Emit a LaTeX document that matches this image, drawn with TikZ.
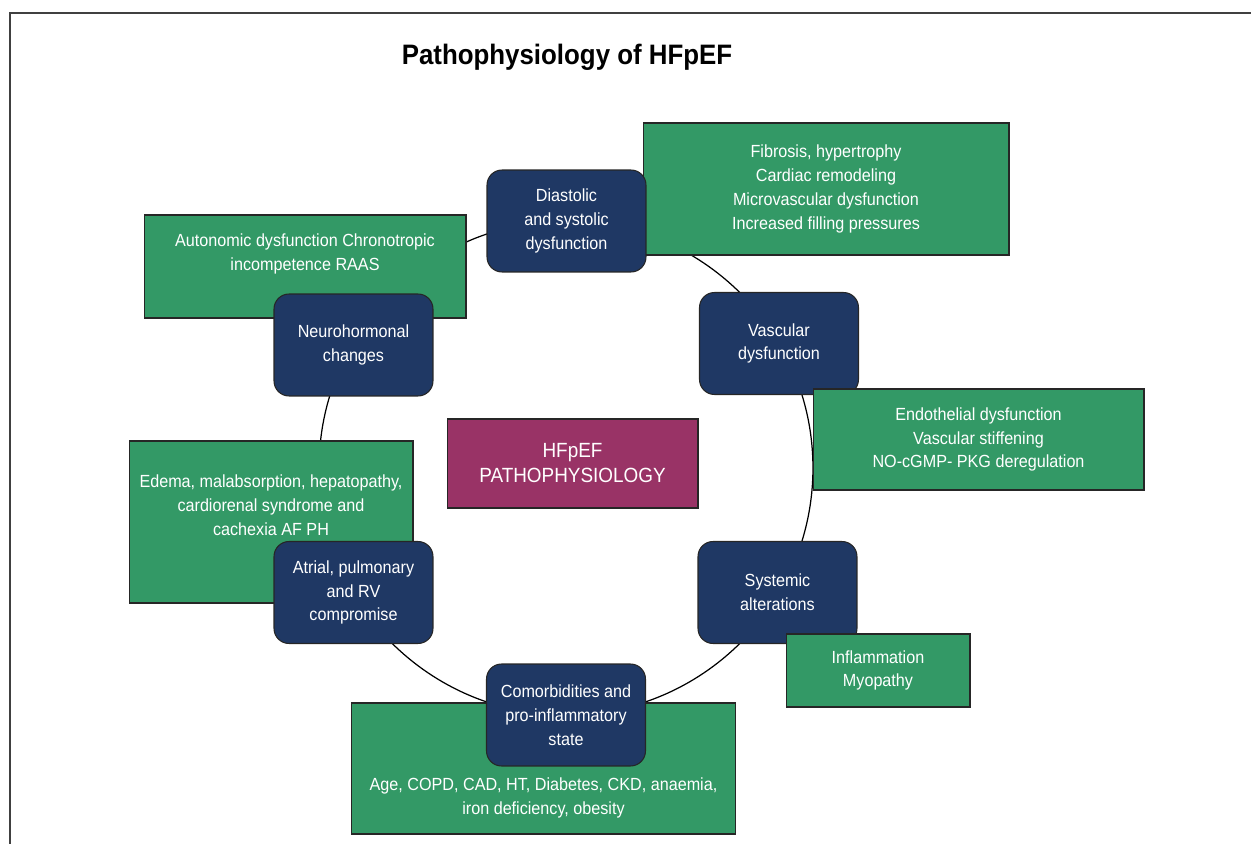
\documentclass[tikz,border=0pt]{standalone}
\usepackage{fontspec}
\setmainfont{Liberation Sans}[FakeStretch=0.92]
\definecolor{hfgreen}{HTML}{339966}
\definecolor{hfnavy}{HTML}{1F3864}
\definecolor{hfplum}{HTML}{993366}
\begin{document}
\begin{tikzpicture}[x=0.02cm,y=-0.02cm,
  every node/.style={font=\fontsize{10}{13.6}\selectfont},
  cause/.style={rectangle,draw=black!85,line width=0.6pt,fill=hfgreen,text=white,align=center,inner sep=0pt},
  stage/.style={rectangle,rounded corners=0.3cm,draw=black!85,line width=0.6pt,fill=hfnavy,text=white,align=center,inner sep=0pt,minimum width=3.18cm,minimum height=2.04cm},
  core/.style={rectangle,draw=black!85,line width=0.6pt,fill=hfplum,text=white,align=center,inner sep=0pt,font=\fontsize{11.7}{14.2}\selectfont},
  caption/.style={text=white,align=center}]
\useasboundingbox (0,0) rectangle (1251,844);
\draw[black!75,line width=0.7pt] (10,844) -- (10,13) -- (1251,13);
\node[font=\fontsize{16}{19}\selectfont\bfseries] (title) at (567,57) {Pathophysiology of HFpEF};
% ring
\coordinate (ring) at (566,468);
\draw[line width=0.7pt] (ring) circle[radius=4.94cm];
% green boxes under the stages
\node[cause,minimum width=6.44cm,minimum height=2.06cm] (auto) at (305,266.5) {};
\node[caption] at (305,254) {Autonomic dysfunction Chronotropic\\incompetence RAAS};
\node[cause,minimum width=5.68cm,minimum height=3.24cm] (edema) at (271,522) {};
\node[caption] at (271,505) {Edema, malabsorption, hepatopathy,\\cardiorenal syndrome and\\cachexia AF PH};
\node[cause,minimum width=7.70cm,minimum height=2.62cm] (age) at (543.5,768.5) {};
\node[caption] at (543.5,798) {Age, COPD, CAD, HT, Diabetes, CKD, anaemia,\\iron deficiency, obesity};
\node[cause,minimum width=7.32cm,minimum height=2.64cm] (fibro) at (826,189) {Fibrosis, hypertrophy\\Cardiac remodeling\\Microvascular dysfunction\\Increased filling pressures};
% stages on the ring
\node[stage] (diast) at (566.5,221) {Diastolic\\and systolic\\dysfunction};
\node[stage] (neuro) at (353.5,345) {Neurohormonal\\changes};
\node[stage] (vasc) at (779,343.5) {Vascular\\dysfunction};
\node[stage] (atrial) at (353.5,592.5) {Atrial, pulmonary\\and RV\\compromise};
\node[stage] (syst) at (777.5,592.5) {Systemic\\alterations};
\node[stage] (comorb) at (566,715) {Comorbidities and\\pro-inflammatory\\state};
% green boxes over the stages
\node[cause,minimum width=6.62cm,minimum height=2.02cm] (endo) at (978.5,439.5) {Endothelial dysfunction\\Vascular stiffening\\NO-cGMP- PKG deregulation};
\node[cause,minimum width=3.68cm,minimum height=1.46cm] (infl) at (878,670.5) {Inflammation\\Myopathy};
\node[core,minimum width=5.02cm,minimum height=1.78cm] (hfpef) at (572.5,463.5) {HFpEF\\PATHOPHYSIOLOGY};
\end{tikzpicture}
\end{document}
